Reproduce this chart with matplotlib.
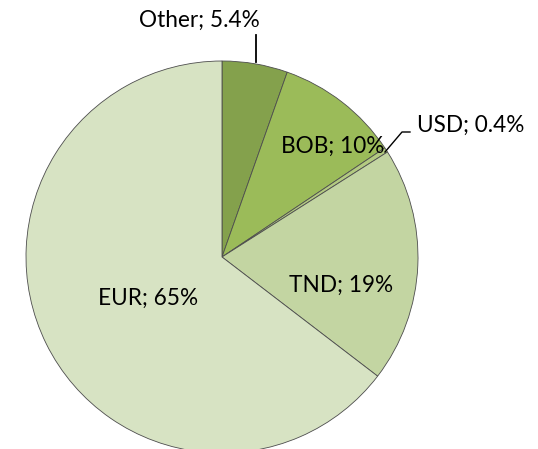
import matplotlib
matplotlib.use('agg')
import matplotlib.pyplot as plt

# currency shares (%), clockwise from 12 o'clock
currencies = ['Other', 'BOB', 'USD', 'TND', 'EUR']
shares = [5.4, 10.2, 0.4, 19.4, 64.6]
pct_labels = ['5.4%', '10%', '0.4%', '19%', '65%']
colors = ['#84a14c', '#9bbb59', '#b3ca81', '#c3d5a2', '#d7e3c3']

W, H = 538, 449
fig = plt.figure(figsize=(W / 100, H / 100), dpi=100)
ax = fig.add_axes([0, 0, 1, 1])

cx, cy, r = 222, H - 257, 196
ax.pie(shares, colors=colors, startangle=90, counterclock=False,
       center=(cx, cy), radius=r, frame=True,
       wedgeprops=dict(edgecolor='#4d4d4d', linewidth=0.6))
ax.set_xlim(0, W)
ax.set_ylim(0, H)
ax.set_aspect('equal')
ax.axis('off')

font = dict(family='Lato', fontsize=16.3, color='black')
labels = [c + '; ' + p for c, p in zip(currencies, pct_labels)]

# Other, with vertical leader
ax.text(199, H - 20, labels[0], ha='center', va='center', **font)
ax.plot([256, 256], [H - 35, H - 62], color='black', lw=1.3)
# BOB inside
ax.text(333, H - 146, labels[1], ha='center', va='center', **font)
# USD outside, bent leader
ax.text(471, H - 125, labels[2], ha='center', va='center', **font)
ax.plot([385, 402, 410], [H - 152, H - 132, H - 132], color='black', lw=1.0)
# TND, EUR inside
ax.text(341, H - 285, labels[3], ha='center', va='center', **font)
ax.text(148, H - 298, labels[4], ha='center', va='center', **font)

fig.savefig('out.png', dpi=100)
